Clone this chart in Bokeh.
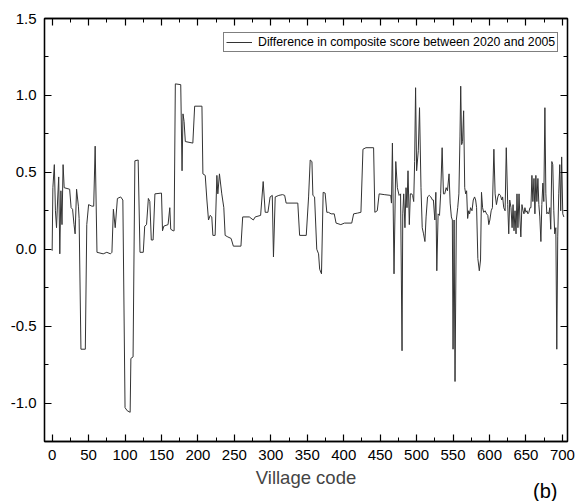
from bokeh.plotting import figure
from bokeh.models import (Range1d, LinearAxis, SingleIntervalTicker, PrintfTickFormatter,
                          Legend, LegendItem, Title, CustomLabelingPolicy)
from bokeh.embed import file_html
from bokeh.resources import INLINE

# Village code (x) and difference in composite score (y)
village = [
    0, 1, 3, 4.5, 6, 7.5, 9, 10.5, 12, 13.5, 15, 16.5, 24, 26, 28, 30, 31.5, 33.5, 36, 37,
    39.5, 45.5, 47.5, 50, 54.5, 57, 59, 61.5, 70, 75, 80, 82, 84, 86.5, 89.5, 94, 97,
    100, 103, 107, 108, 111, 113.5, 118, 120.5, 125, 127, 129.5, 132, 134, 136, 138.5, 141, 150,
    151.4, 153.2, 159, 161.4, 162.7, 166, 167.3, 169, 176.4, 178.2, 179.5, 181, 182.7, 193,
    195.5, 205.5, 206.8, 210, 212.3, 214.5, 216.8, 219, 220.5, 223.6, 226, 227.3, 229.5,
    232.7, 235.5, 237.3, 241, 245.5, 248.6, 259, 261.4, 270.5, 276, 278.6, 286, 289.5, 292.3,
    296, 299, 302, 303.6, 306, 311, 316, 319, 321, 323.6, 337, 339.5, 348.6, 351.8, 354,
    356.4, 357.7, 360, 363, 365.5, 367, 369.5, 371.8, 374.5, 376.8, 379, 382.7, 387, 389.5,
    396, 401, 411, 413.6, 419, 423.6, 426.4, 430.5, 441, 442.7, 446, 448.6, 455.5, 464.5,
    465.5, 466.8, 469, 471.4, 473.6, 476, 478, 480, 481, 482.3, 484, 485.5, 486.8, 488.2,
    490, 491.4, 493.2, 494.5, 496, 497.3, 498.6, 500, 502.3, 504, 506, 507.7, 509.5, 511.4,
    513, 515, 517.3, 519.5, 521.8, 523, 525, 526.4, 527.7, 529.5, 531.4, 533, 535, 536.8,
    538.6, 540.5, 542.3, 544.5, 546, 547.7, 549, 550, 551.4, 552.7, 554.5, 556.4, 558,
    559.5, 560.5, 561.8, 563, 564.5, 566, 567.3, 568.6, 570, 571.4, 572.7, 574, 576, 577.7,
    579.5, 581, 582.3, 584, 586, 587.7, 589, 590.5, 592, 594, 596, 597.7, 599, 600.5, 602.3,
    604, 606, 607.7, 609.5, 611.4, 613, 615, 616.8, 618, 619.5, 621.4, 623, 625, 626.4,
    627.7, 629.5, 631, 632.3, 633.6, 635, 636.4, 637.7, 639, 640.5, 641.8, 643, 644.5, 646,
    647.3, 648.6, 650, 651.4, 652.7, 654, 655.5, 656.8, 658.2, 659.5, 661, 662.3, 663.6,
    665, 666.4, 667.7, 669, 670.5, 671.8, 673.2, 674.5, 676, 677.3, 678.6, 680, 681.4,
    682.7, 684, 685.5, 686.8, 688.2, 689.5, 691, 692.3, 693.6, 695, 696.4, 697.7, 699,
    700.5, 702,
]
difference = [
    -0.01, 0.40, 0.55, 0.25, 0.14, 0.32, 0.47, -0.03, 0.38, 0.16, 0.55, 0.40, 0.39, 0.27, 0.26, 0.16, 0.10, 0.39, 0.28, 0.20,
    -0.65, -0.65, 0.16, 0.29, 0.28, 0.28, 0.67, -0.02, -0.03, -0.02, -0.03, -0.02, 0.26, 0.14, 0.33, 0.34, 0.32,
    -1.03, -1.05, -1.06, -0.71, -0.70, 0.575, 0.58, -0.02, -0.02, 0.15, 0.16, 0.33, 0.31, 0.06, 0.06, 0.36, 0.365,
    0.12, 0.15, 0.16, 0.27, 0.13, 0.12, 0.12, 1.075, 1.07, 0.51, 0.88, 0.83, 0.70, 0.69,
    0.93, 0.93, 0.49, 0.48, 0.32, 0.19, 0.22, 0.21, 0.09, 0.09, 0.48, 0.36, 0.49,
    0.36, 0.27, 0.09, 0.08, 0.07, 0.02, 0.02, 0.21, 0.21, 0.19, 0.21, 0.22, 0.44, 0.24,
    0.24, 0.34, 0.35, -0.05, 0.34, 0.35, 0.355, 0.35, 0.30, 0.30, 0.30, 0.09, 0.09, 0.34, 0.58,
    0.57, 0.35, 0.34, 0.0, -0.03, -0.13, -0.16, 0.37, 0.365, 0.24, 0.24, 0.23, 0.23, 0.17,
    0.16, 0.17, 0.17, 0.23, 0.235, 0.24, 0.65, 0.66, 0.66, 0.24, 0.25, 0.36, 0.355, 0.35,
    0.30, 0.69, -0.16, 0.57, 0.40, 0.35, 0.36, -0.66, 0.23, 0.36, 0.14, 0.40, 0.27, 0.51,
    0.16, 0.36, 0.36, 0.35, 0.31, 0.57, 1.05, 0.51, 0.64, 0.92, 0.40, 0.14, 0.10, 0.05,
    0.21, 0.34, 0.35, 0.34, 0.32, 0.32, 0.19, 0.37, -0.14, 0.23, 0.22, 0.36, 0.66, 0.36,
    0.36, 0.40, 0.38, 0.49, 0.30, 0.21, 0.19, -0.65, 0.19, -0.86, 0.19, 0.27, 0.36,
    0.73, 1.06, 0.68, 0.70, 0.90, 0.40, 0.36, 0.38, 0.20, 0.25, 0.23, 0.27, 0.25, 0.32,
    0.34, 0.32, 0.27, -0.06, -0.14, -0.07, 0.37, 0.27, 0.24, 0.25, 0.23, 0.22, 0.16, 0.19, 0.25,
    0.27, 0.65, 0.36, 0.29, 0.34, 0.36, 0.35, 0.32, 0.34, 0.27, 0.25, 0.66, 0.29, 0.10,
    0.32, 0.27, 0.14, 0.29, 0.12, 0.25, 0.10, 0.36, 0.14, 0.36, 0.19, 0.08, 0.29, 0.25,
    0.23, 0.27, 0.24, 0.25, 0.23, 0.24, 0.27, 0.27, 0.48, 0.31, 0.46, 0.23, 0.48,
    0.31, 0.46, 0.29, 0.21, 0.05, 0.29, 0.43, 0.31, 0.92, 0.36, 0.23, 0.24, 0.23,
    0.27, 0.13, 0.57, 0.55, 0.25, 0.10, 0.14, -0.65, 0.08, 0.36, 0.55, 0.25, 0.60,
    0.23, 0.21,
]
series_label = "Difference in composite score between 2020 and 2005"
x_title = "Village code"
panel_tag = "(b)"

FONT = "Liberation Sans"

p = figure(width=575, height=501, output_backend="svg", toolbar_location=None,
           x_range=Range1d(-10.5, 707), y_range=Range1d(-1.25, 1.5),
           x_axis_type=None, y_axis_type=None)
p.min_border_left = 44
p.min_border_right = 8
p.min_border_top = 18
p.min_border_bottom = 60
p.grid.visible = False
p.outline_line_color = "black"
p.outline_line_width = 1.3
p.background_fill_color = "white"
p.border_fill_color = "white"

hide_all = CustomLabelingPolicy(code="""
const all = [...indices];
for (const i of all) { indices.unset(i); }
return indices;
""")


def style_axis(ax, show_labels):
    ax.axis_line_color = "black"
    ax.axis_line_width = 1.3
    ax.major_tick_line_color = "black"
    ax.minor_tick_line_color = "black"
    ax.major_tick_line_width = 1.2
    ax.minor_tick_line_width = 1.0
    ax.major_tick_in = 7
    ax.major_tick_out = 0
    ax.minor_tick_in = 4
    ax.minor_tick_out = 0
    if show_labels:
        ax.major_label_text_font = FONT
        ax.major_label_text_font_size = "15px"
        ax.major_label_text_color = "black"
        ax.major_label_standoff = 8
    else:
        ax.major_label_text_font_size = "0px"
        ax.major_label_standoff = 0
        ax.major_label_policy = hide_all


xb = LinearAxis(ticker=SingleIntervalTicker(interval=50, num_minor_ticks=2))
style_axis(xb, True)
xb.axis_label = x_title
xb.axis_label_text_font = FONT
xb.axis_label_text_font_size = "18.5px"
xb.axis_label_text_font_style = "normal"
xb.axis_label_standoff = 4
p.add_layout(xb, "below")

tag = Title(text=panel_tag, align="right", vertical_align="top", offset=10, standoff=-22,
            text_font=FONT, text_font_size="20px", text_font_style="normal",
            text_color="black")
p.add_layout(tag, "below")

xt = LinearAxis(ticker=SingleIntervalTicker(interval=50, num_minor_ticks=2))
style_axis(xt, False)
p.add_layout(xt, "above")

yl = LinearAxis(ticker=SingleIntervalTicker(interval=0.5, num_minor_ticks=2),
                formatter=PrintfTickFormatter(format="%.1f"))
style_axis(yl, True)
p.add_layout(yl, "left")

yr = LinearAxis(ticker=SingleIntervalTicker(interval=0.5, num_minor_ticks=2))
style_axis(yr, False)
p.add_layout(yr, "right")

r = p.line(village, difference, line_color="#333333", line_width=1.0)

legend = Legend(items=[LegendItem(label=series_label, renderers=[r])],
                location=(179, 389), orientation="vertical")
legend.label_text_font = FONT
legend.label_text_font_size = "12.3px"
legend.label_text_color = "black"
legend.label_standoff = 6
legend.glyph_width = 26
legend.glyph_height = 12
legend.label_height = 12
legend.padding = 2
legend.spacing = 0
legend.margin = 0
legend.border_line_color = "black"
legend.border_line_width = 1
legend.background_fill_alpha = 1.0
p.add_layout(legend, "center")

open("out.html", "w").write(file_html(p, INLINE))
